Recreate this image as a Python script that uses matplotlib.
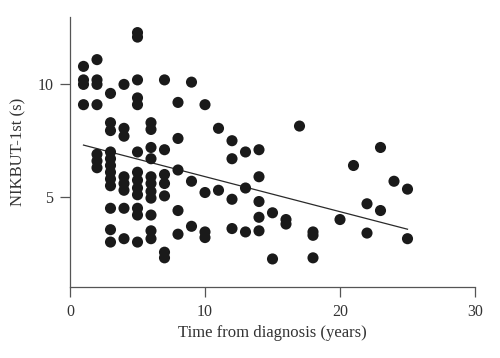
import matplotlib.pyplot as plt
import numpy as np

# years since diagnosis and NIKBUT-1st (s)
years = [1, 1, 1, 1,
         2, 2, 2, 2, 2, 2, 2,
         3, 3, 3, 3, 3, 3, 3, 3, 3, 3, 3, 3,
         4, 4, 4, 4, 4, 4, 4, 4,
         5, 5, 5, 5, 5, 5, 5, 5, 5, 5, 5, 5, 5,
         6, 6, 6, 6, 6, 6, 6, 6, 6, 6, 6,
         7, 7, 7, 7, 7, 7, 7,
         8, 8, 8, 8, 8,
         9, 9, 9,
         10, 10, 10, 10,
         11, 11,
         12, 12, 12, 12,
         13, 13, 13,
         14, 14, 14, 14, 14,
         15, 15,
         16, 16,
         17,
         18, 18, 18,
         20,
         21,
         22, 22,
         23, 23,
         24,
         25, 25]
nikbut = [10.8, 10.2, 10.0, 9.1,
          11.1, 10.2, 10.0, 9.1, 6.9, 6.6, 6.3,
          9.6, 8.3, 7.95, 7.0, 6.7, 6.4, 6.1, 5.8, 5.5, 4.5, 3.55, 3.0,
          10.0, 8.05, 7.7, 5.9, 5.6, 5.3, 4.5, 3.15,
          12.3, 12.1, 10.2, 9.4, 9.1, 7.0, 6.1, 5.75, 5.4, 5.1, 4.5, 4.2, 3.0,
          8.3, 8.0, 7.2, 6.7, 5.9, 5.6, 5.25, 4.95, 4.2, 3.5, 3.15,
          10.2, 7.1, 6.0, 5.6, 5.05, 2.55, 2.3,
          9.2, 7.6, 6.2, 4.4, 3.35,
          10.1, 5.7, 3.7,
          9.1, 5.2, 3.45, 3.2,
          8.05, 5.3,
          7.5, 6.7, 4.9, 3.6,
          7.0, 5.4, 3.45,
          7.1, 5.9, 4.8, 4.1, 3.5,
          4.3, 2.25,
          4.0, 3.8,
          8.15,
          3.45, 3.3, 2.3,
          4.0,
          6.4,
          4.7, 3.4,
          7.2, 4.4,
          5.7,
          5.35, 3.15]

x = np.array(years, dtype=float)
y = np.array(nikbut)
slope, intercept = np.polyfit(x, y, 1)
xfit = np.array([x.min(), x.max()])

plt.rcParams["font.family"] = "Liberation Serif"

fig = plt.figure(figsize=(5.0, 3.58), dpi=100)
ax = fig.add_axes([0.14, 0.198, 0.81, 0.755])

ax.scatter(x, y, s=64, color="#1a1a1a", edgecolors="none", zorder=3)
ax.plot(xfit, intercept + slope * xfit, color="#2a2a2a", lw=0.9, zorder=2)

ax.set_xlim(0, 30)
ax.set_ylim(1, 13)
ax.set_xticks([0, 10, 20, 30])
ax.set_yticks([5, 10])

for side in ["top", "right"]:
    ax.spines[side].set_visible(False)
for side in ["left", "bottom"]:
    ax.spines[side].set_color("#555555")
    ax.spines[side].set_linewidth(0.9)
ax.tick_params(direction="out", length=7, width=0.9, color="#555555",
               labelsize=11.5, labelcolor="#333333", pad=5)

ax.set_xlabel("Time from diagnosis (years)", fontsize=12, color="#333333", labelpad=4)
ax.set_ylabel("NIKBUT-1st (s)", fontsize=12, color="#333333", labelpad=8)

fig.savefig("out.png", dpi=100)
